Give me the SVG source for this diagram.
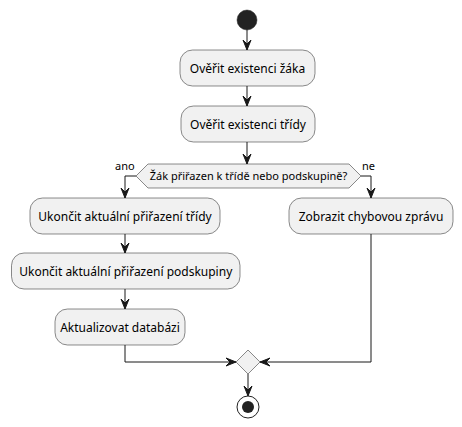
<svg xmlns="http://www.w3.org/2000/svg" width="462" height="427" viewBox="0 0 462 427">
<style>
.box{fill:#F1F1F1;stroke:#181818;stroke-width:0.5}
.t{font-family:"Noto Sans","DejaVu Sans",sans-serif;font-size:12px;fill:#000;text-anchor:middle}
.s{font-family:"Noto Sans","DejaVu Sans",sans-serif;font-size:11px;fill:#000}
.ln{fill:none;stroke:#181818;stroke-width:1}
.ah{fill:#181818;stroke:#181818;stroke-width:1}
</style>
<rect width="462" height="427" fill="#FFFFFF"/>
<g id="connectors">
<path class="ln" d="M247,30 V50"/>
<polygon class="ah" points="243,40 247,50 251,40 247,44"/>
<path class="ln" d="M247,86 V106"/>
<polygon class="ah" points="243,96 247,106 251,96 247,100"/>
<path class="ln" d="M247,142 V164"/>
<polygon class="ah" points="243,154 247,164 251,154 247,158"/>
<path class="ln" d="M136,176 H125 V198"/>
<polygon class="ah" points="121,188 125,198 129,188 125,192"/>
<path class="ln" d="M361,176 H371 V198"/>
<polygon class="ah" points="367,188 371,198 375,188 371,192"/>
<path class="ln" d="M125,234 V253"/>
<polygon class="ah" points="121,243 125,253 129,243 125,247"/>
<path class="ln" d="M125,289 V309"/>
<polygon class="ah" points="121,299 125,309 129,299 125,303"/>
<path class="ln" d="M125,345 V362 H236"/>
<polygon class="ah" points="226,358 236,362 226,366 230,362"/>
<path class="ln" d="M371,234 V362 H260"/>
<polygon class="ah" points="270,358 260,362 270,366 266,362"/>
<path class="ln" d="M248,374 V396"/>
<polygon class="ah" points="244,386 248,396 252,386 248,390"/>
</g>
<g id="start"><circle cx="247" cy="20" r="10" fill="#222222" stroke="#222222" stroke-width="0.5"/></g>
<g id="n1"><rect class="box" x="180" y="50" width="135" height="36" rx="12.5"/><text class="t" x="247.5" y="72.5">Ověřit existenci žáka</text></g>
<g id="n2"><rect class="box" x="181" y="106" width="134" height="36" rx="12.5"/><text class="t" x="248" y="128.5">Ověřit existenci třídy</text></g>
<g id="decision"><polygon class="box" points="136,176 148,164 349,164 361,176 349,188 148,188"/><text class="s" x="248.5" y="180" text-anchor="middle">Žák přiřazen k třídě nebo podskupině?</text>
<text class="s" x="115" y="170">ano</text><text class="s" x="362" y="170">ne</text></g>
<g id="n3"><rect class="box" x="30" y="198" width="190" height="36" rx="12.5"/><text class="t" x="125" y="220.5">Ukončit aktuální přiřazení třídy</text></g>
<g id="n4"><rect class="box" x="289" y="198" width="164" height="36" rx="12.5"/><text class="t" x="371" y="220.5">Zobrazit chybovou zprávu</text></g>
<g id="n5"><rect class="box" x="11.5" y="253" width="228.5" height="36" rx="12.5"/><text class="t" x="125.75" y="275.5">Ukončit aktuální přiřazení podskupiny</text></g>
<g id="n6"><rect class="box" x="55" y="309" width="130" height="36" rx="12.5"/><text class="t" x="120" y="331.5">Aktualizovat databázi</text></g>
<g id="merge"><polygon class="box" points="248,350 260,362 248,374 236,362"/></g>
<g id="end"><circle cx="248" cy="407" r="11" fill="none" stroke="#222222" stroke-width="1"/><circle cx="248" cy="407" r="6" fill="#222222"/></g>
</svg>
